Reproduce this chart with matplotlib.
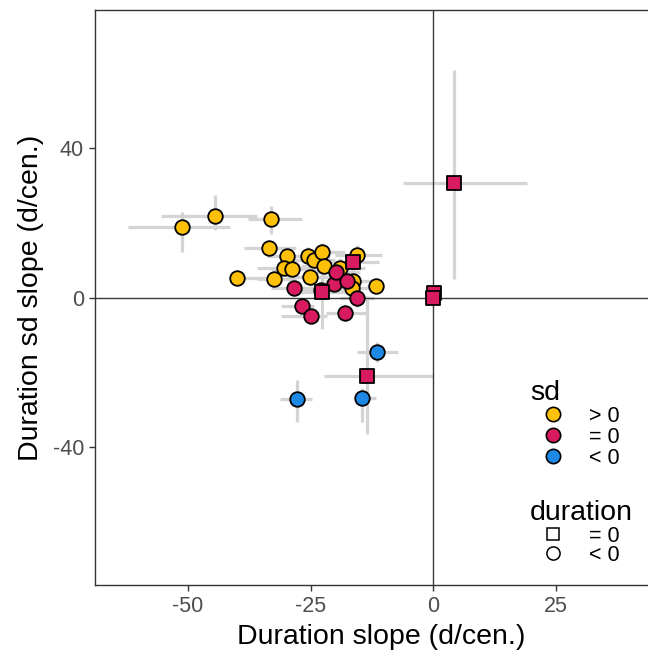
import matplotlib
matplotlib.use("Agg")
import matplotlib.pyplot as plt
from matplotlib.lines import Line2D
import numpy as np

plt.rcParams['font.family'] = ['Liberation Sans', 'DejaVu Sans']

# slope estimates (days per century) with interval bounds
dur_slope = [-51.2, -44.5, -33.0, -33.5, -29.9, -30.5, -28.8, -32.5, -40.0, -25.6,
             -24.4, -22.7, -22.3, -25.2, -18.9, -15.5, -16.4, -16.5, -11.7,
             -28.3, -22.8, -26.8, -24.9, -17.9, -20.3, -19.8, -17.6, -15.5,
             -16.3, -22.7, 4.3, 0.2, 0.0, -13.5,
             -11.5, -27.8, -14.6]
sd_slope = [19.0, 21.9, 21.1, 13.2, 11.0, 7.9, 7.7, 5.0, 5.1, 11.0,
            10.0, 12.3, 8.5, 5.4, 7.9, 11.5, 4.5, 2.6, 3.2,
            2.6, 2.1, -2.4, -5.0, -4.1, 3.7, 6.8, 4.5, -0.2,
            9.4, 1.4, 30.6, 1.1, 0.0, -20.9,
            -14.6, -27.3, -26.9]
dur_lo = [-62.3, -55.6, -37.7, -38.5, -34.0, -36.0, -33.0, -36.0, -41.0, -30.0,
          -29.0, -27.0, -27.0, -30.0, -23.0, -20.0, -21.0, -21.0, -13.5,
          -33.0, -27.0, -31.0, -31.0, -21.9, -25.0, -24.0, -22.0, -19.0,
          -21.0, -27.0, -6.1, -0.5, -0.6, -22.3,
          -15.5, -31.2, -15.8]
dur_hi = [-41.5, -36.0, -26.8, -28.0, -25.0, -26.0, -24.0, -28.0, -33.0, -21.0,
          -20.0, -18.0, -17.0, -20.0, -14.0, -10.5, -11.0, -12.0, -10.0,
          -23.0, -18.0, -24.4, -21.6, -13.7, -15.5, -15.0, -13.0, -12.0,
          -11.0, -18.0, 19.2, 0.9, 0.6, 0.0,
          -7.2, -24.7, -11.7]
sd_lo = [12.1, 18.1, 17.0, 11.0, 9.0, 6.0, 6.0, 3.0, 4.0, 8.5,
         8.0, 10.0, 6.0, 3.0, 5.5, 9.0, 2.5, 0.5, 2.0,
         0.5, 0.0, -4.5, -7.0, -6.0, 1.5, 4.5, 2.5, -2.5,
         7.0, -8.5, 5.0, 0.0, -0.8, -36.5,
         -17.3, -33.3, -33.4]
sd_hi = [22.8, 27.5, 24.6, 15.5, 13.0, 10.0, 9.5, 7.0, 6.2, 13.5,
         12.0, 14.5, 11.0, 8.0, 10.5, 14.0, 6.5, 4.5, 4.5,
         4.5, 4.0, -0.5, -3.0, -2.0, 6.0, 9.0, 6.5, 2.0,
         12.0, 10.0, 61.0, 2.0, 0.8, 0.5,
         -12.0, -22.2, -24.3]
sd_class = ['>0'] * 19 + ['=0'] * 9 + ['=0'] * 6 + ['<0'] * 3
dur_class = ['<0'] * 28 + ['=0'] * 6 + ['<0'] * 3

# legend entries
sd_levels = ['>0', '=0', '<0']
sd_labels = ['> 0', '= 0', '< 0']
dur_levels = ['=0', '<0']
dur_labels = ['= 0', '< 0']

fill = {'>0': '#FFC107', '=0': '#D81B60', '<0': '#1E88E5'}
shape = {'=0': 's', '<0': 'o'}
size = {'s': 92, 'o': 110}

W, H = 648, 654
fig = plt.figure(figsize=(W / 100, H / 100), dpi=100)

xmin, xmax = -69.0, 48.0
ymin, ymax = -77.0, 77.0
left_px, top_px, bottom_px = 95, 10, 585
px_per_x = 4.9
width_px = (xmax - xmin) * px_per_x
ax = fig.add_axes([left_px / W, 1 - bottom_px / H, width_px / W, (bottom_px - top_px) / H])
ax.set_xlim(xmin, xmax)
ax.set_ylim(ymin, ymax)

grey = '#D4D4D4'
ax.hlines(sd_slope, dur_lo, dur_hi, color=grey, lw=2.3, zorder=1)
ax.vlines(dur_slope, sd_lo, sd_hi, color=grey, lw=2.3, zorder=1)

ax.axhline(0, color='#3a3a3a', lw=1.0, zorder=2)
ax.axvline(0, color='#3a3a3a', lw=1.0, zorder=2)

for xv, yv, sc, dc in zip(dur_slope, sd_slope, sd_class, dur_class):
    m = shape[dc]
    ax.scatter([xv], [yv], s=size[m], marker=m, facecolor=fill[sc],
               edgecolor='black', linewidth=1.3, zorder=3)

for side in ax.spines.values():
    side.set_color('#333333')
    side.set_linewidth(1.0)

ax.set_xticks([-50, -25, 0, 25])
ax.set_xticklabels(['-50', '-25', '0', '25'])
ax.set_yticks([-40, 0, 40])
ax.set_yticklabels(['-40', '0', '40'])
ax.tick_params(axis='both', colors='#333333', labelcolor='#4D4D4D',
               labelsize=15.5, length=4, width=1.0, pad=4)

ax.set_xlabel('Duration slope (d/cen.)', fontsize=20.5, color='black', labelpad=5)
ax.set_ylabel('Duration sd slope (d/cen.)', fontsize=20.5, color='black', labelpad=6)

# legends
def fx(px):
    return px / W

def fy(py):
    return 1 - py / H

fig.text(fx(530), fy(400), 'sd', fontsize=20.5, ha='left', va='baseline')
for i, (lev, lab) in enumerate(zip(sd_levels, sd_labels)):
    yy = 413.5 + i * 21.2
    fig.add_artist(Line2D([fx(553)], [fy(yy)], transform=fig.transFigure, marker='o',
                          markersize=10.3, markerfacecolor=fill[lev],
                          markeredgecolor='black', markeredgewidth=1.2, linestyle='none'))
    fig.text(fx(589), fy(yy), lab, fontsize=15.5, ha='left', va='center_baseline')

fig.text(fx(530), fy(520), 'duration', fontsize=20.5, ha='left', va='baseline')
for i, (lev, lab) in enumerate(zip(dur_levels, dur_labels)):
    yy = 534 + i * 19
    fig.add_artist(Line2D([fx(553)], [fy(yy)], transform=fig.transFigure, marker=shape[lev],
                          markersize=9 if shape[lev] == 's' else 9.5,
                          markerfacecolor='white', markeredgecolor='black',
                          markeredgewidth=1.1, linestyle='none'))
    fig.text(fx(589), fy(yy), lab, fontsize=15.5, ha='left', va='center_baseline')

fig.savefig('out.png', dpi=100)
